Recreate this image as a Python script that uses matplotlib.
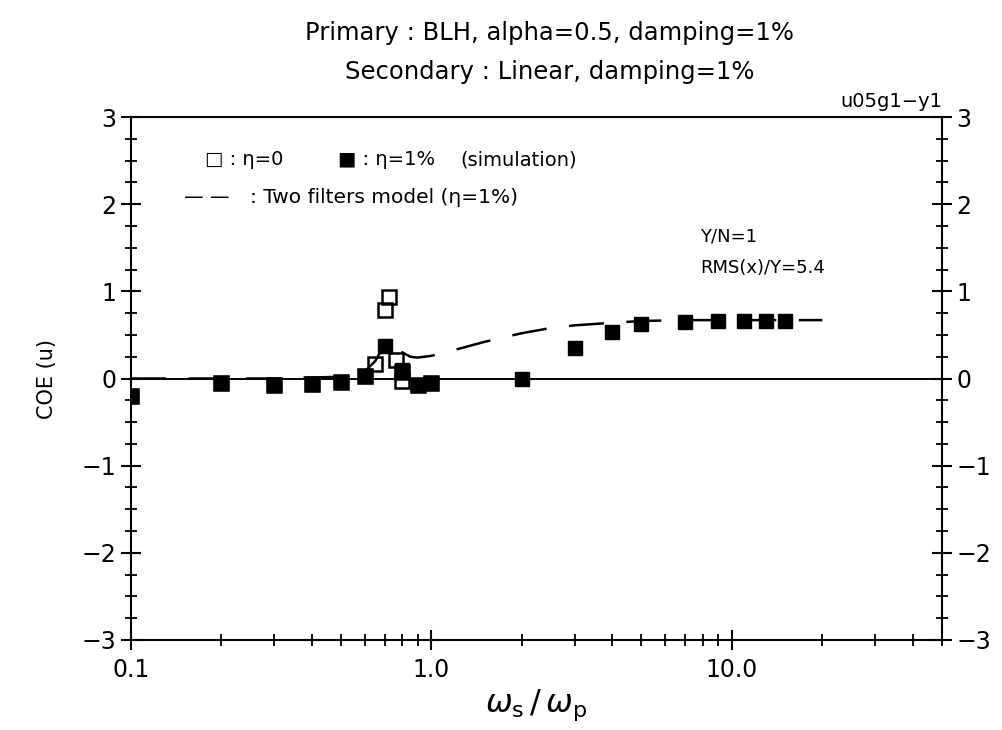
import matplotlib
matplotlib.use("Agg")
import matplotlib.pyplot as plt
from matplotlib.ticker import FixedLocator, NullFormatter, LogLocator

plt.rcParams["font.family"] = ["DejaVu Sans"]

# simulation, eta = 1% (filled squares)
x_filled = [0.1, 0.2, 0.3, 0.4, 0.5, 0.6, 0.7, 0.8, 0.9, 1.0,
            2.0, 3.0, 4.0, 5.0, 7.0, 9.0, 11.0, 13.0, 15.0]
y_filled = [-0.2, -0.05, -0.07, -0.06, -0.04, 0.03, 0.37, 0.1, -0.08, -0.05,
            0.0, 0.35, 0.53, 0.63, 0.65, 0.66, 0.66, 0.66, 0.66]

# simulation, eta = 0 (open squares)
x_open = [0.1, 0.2, 0.3, 0.4, 0.5, 0.6, 0.65, 0.7, 0.72, 0.76, 0.8, 0.8, 0.9, 1.0]
y_open = [-0.2, -0.05, -0.07, -0.06, -0.04, 0.03, 0.17, 0.79, 0.94, 0.21, 0.07, -0.03, -0.08, -0.05]

# two filters model (eta = 1%)
x_model = [0.1, 0.3, 0.5, 0.6, 0.65, 0.7, 0.75, 0.8, 0.85, 0.9, 1.0, 1.2, 1.5,
           2.0, 2.5, 3.0, 4.0, 5.0, 7.0, 10.0, 15.0, 20.0]
y_model = [0.0, 0.0, 0.02, 0.08, 0.2, 0.4, 0.36, 0.3, 0.25, 0.24, 0.26, 0.33, 0.42,
           0.52, 0.58, 0.61, 0.64, 0.66, 0.67, 0.67, 0.67, 0.67]

fig = plt.figure(figsize=(10.03, 7.3), dpi=100)
ax = fig.add_axes([0.1306, 0.1233, 0.8085, 0.7164])

ax.axhline(0, color="black", lw=1.4, zorder=1)
ax.plot(x_model, y_model, color="black", lw=1.8, dashes=(14, 9), zorder=2)
ax.plot(x_open, y_open, ls="none", marker="s", ms=10, mfc="none", mec="black", mew=1.8, zorder=3)
ax.plot(x_filled, y_filled, ls="none", marker="s", ms=10, mfc="black", mec="black", zorder=4)

ax.set_xscale("log")
ax.set_xlim(0.1, 50)
ax.set_ylim(-3, 3)

ax.xaxis.set_major_locator(FixedLocator([0.1, 1.0, 10.0]))
ax.set_xticklabels(["0.1", "1.0", "10.0"])
ax.xaxis.set_minor_locator(LogLocator(base=10, subs=range(2, 10)))
ax.xaxis.set_minor_formatter(NullFormatter())
ax.set_yticks([-3, -2, -1, 0, 1, 2, 3])
ax.set_yticklabels(["\u22123", "\u22122", "\u22121", "0", "1", "2", "3"])
ax.yaxis.set_minor_locator(FixedLocator([i * 0.25 for i in range(-12, 13)]))

ax.tick_params(axis="both", which="major", direction="inout", length=14, width=1.5,
               labelsize=17, colors="black")
ax.tick_params(axis="both", which="minor", direction="inout", length=8, width=1.3)
ax.tick_params(axis="y", which="both", left=True, right=True, labelleft=True, labelright=True)
ax.tick_params(axis="x", which="both", top=False, pad=6)
for s in ax.spines.values():
    s.set_linewidth(1.5)

ax.set_ylabel("COE (u)", fontsize=15, labelpad=18)
ax.set_xlabel(r"$\omega_{\rm s}\,/\,\omega_{\rm p}$", fontsize=23, labelpad=4)

fig.text(0.548, 0.955, "Primary : BLH, alpha=0.5, damping=1%", ha="center", va="center", fontsize=17.5)
fig.text(0.548, 0.902, "Secondary : Linear, damping=1%", ha="center", va="center", fontsize=17.5)
ax.text(1.0, 1.012, "u05g1\u2212y1", transform=ax.transAxes, ha="right", va="bottom", fontsize=14)

ax.text(0.091, 0.918, "\u25a1 : \u03b7=0", transform=ax.transAxes, va="center", fontsize=14)
ax.text(0.255, 0.918, "\u25a0 : \u03b7=1%", transform=ax.transAxes, va="center", fontsize=14)
ax.text(0.406, 0.918, "(simulation)", transform=ax.transAxes, va="center", fontsize=14)
ax.text(0.065, 0.847, "\u2014 \u2014", transform=ax.transAxes, va="center", fontsize=14)
ax.text(0.147, 0.847, ": Two filters model (\u03b7=1%)", transform=ax.transAxes, va="center", fontsize=14.5)
ax.text(0.702, 0.772, "Y/N=1", transform=ax.transAxes, va="center", fontsize=13)
ax.text(0.702, 0.711, "RMS(x)/Y=5.4", transform=ax.transAxes, va="center", fontsize=13)

fig.savefig("out.png", dpi=100, facecolor="white")
